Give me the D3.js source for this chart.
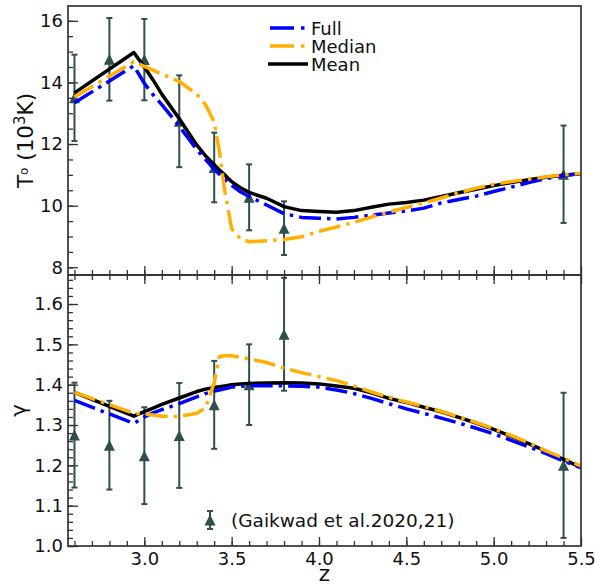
<!DOCTYPE html>
<html><head><meta charset="utf-8">
<script src="https://cdn.jsdelivr.net/npm/d3@7"></script>
<style>body{margin:0;background:#fff} text{font-family:"DejaVu Sans",sans-serif;fill:#111}</style>
</head><body><svg id="c" width="595" height="585"></svg>
<script>
// ---- data ----
const zLine = [2.6, 2.94, 3.0, 3.05, 3.1, 3.2, 3.3, 3.35, 3.4, 3.43, 3.46, 3.5, 3.55, 3.6, 3.7, 3.8, 3.9, 4.0, 4.1, 4.2, 4.3, 4.4, 4.5, 4.6, 4.7, 4.8, 4.9, 5.0, 5.1, 5.2, 5.3, 5.4, 5.5];
const t0Full   = [13.34, 14.54, 13.97, 13.6, 13.28, 12.58, 11.82, 11.5, 11.18, 11.02, 10.86, 10.66, 10.45, 10.30, 10.02, 9.74, 9.62, 9.59, 9.57, 9.62, 9.69, 9.76, 9.83, 9.92, 10.09, 10.20, 10.31, 10.46, 10.60, 10.75, 10.88, 10.98, 11.04];
const t0Median = [13.53, 14.67, 14.52, 14.40, 14.27, 14.03, 13.62, 13.28, 12.72, 11.75, 10.50, 9.25, 8.92, 8.83, 8.86, 8.90, 8.99, 9.17, 9.31, 9.46, 9.63, 9.79, 9.94, 10.09, 10.25, 10.42, 10.57, 10.69, 10.78, 10.86, 10.94, 11.0, 11.05];
const t0Mean   = [13.66, 14.97, 14.5, 14.08, 13.62, 12.82, 11.97, 11.62, 11.33, 11.16, 11.0, 10.78, 10.58, 10.43, 10.24, 9.97, 9.84, 9.81, 9.79, 9.84, 9.95, 10.05, 10.10, 10.18, 10.30, 10.42, 10.53, 10.65, 10.75, 10.84, 10.92, 10.99, 11.04];
const gFull    = [1.361, 1.304, 1.320, 1.330, 1.338, 1.353, 1.370, 1.378, 1.384, 1.387, 1.390, 1.394, 1.396, 1.397, 1.398, 1.397, 1.396, 1.394, 1.387, 1.378, 1.366, 1.353, 1.340, 1.329, 1.317, 1.305, 1.292, 1.278, 1.262, 1.246, 1.229, 1.211, 1.194];
const gMedian  = [1.381, 1.329, 1.327, 1.325, 1.322, 1.321, 1.329, 1.342, 1.405, 1.470, 1.472, 1.472, 1.468, 1.464, 1.455, 1.441, 1.430, 1.420, 1.410, 1.397, 1.382, 1.369, 1.357, 1.346, 1.334, 1.320, 1.306, 1.291, 1.274, 1.256, 1.236, 1.218, 1.198];
const gMean    = [1.381, 1.322, 1.333, 1.342, 1.351, 1.367, 1.383, 1.389, 1.393, 1.395, 1.397, 1.400, 1.402, 1.403, 1.404, 1.405, 1.404, 1.402, 1.397, 1.391, 1.380, 1.366, 1.356, 1.344, 1.333, 1.319, 1.305, 1.289, 1.272, 1.254, 1.235, 1.215, 1.195];
const zObs   = [2.6, 2.8, 3.0, 3.2, 3.4, 3.6, 3.8, 5.4];
const t0Obs  = [13.5, 14.75, 14.74, 12.74, 11.24, 10.27, 9.27, 11.02];
const t0Err  = [1.4, 1.34, 1.32, 1.49, 1.13, 1.07, 0.87, 1.58];
const gObs   = [1.275, 1.25, 1.224, 1.274, 1.35, 1.40, 1.525, 1.20];
const gErr   = [0.13, 0.11, 0.12, 0.13, 0.109, 0.10, 0.14, 0.18];
const xTicks = [3.0, 3.5, 4.0, 4.5, 5.0, 5.5];
const t0Ticks = [8, 10, 12, 14, 16];
const gTicks = [1.0, 1.1, 1.2, 1.3, 1.4, 1.5, 1.6];
const seriesNames = ["Full", "Median", "Mean"];
const obsLabel = "(Gaikwad et al.2020,21)";

// ---- layout ----
const L = 68, R = 581, T1 = 6, B1 = 275, T2 = 275, B2 = 546;
const svg = d3.select("#c");
const x = d3.scaleLinear().domain([2.563, 5.5]).range([L, R]);
const yT = d3.scaleLinear().domain([7.75, 16.48]).range([B1, T1]);
const yG = d3.scaleLinear().domain([1.0, 1.672]).range([B2, T2]);

const colors = {Full: "#0000FF", Median: "#FFB000", Mean: "#000000"};
const dashes = {Full: "22 6 3.5 6", Median: "22 6 3.5 6", Mean: null};
const errCol = "#2F4F4F";
const fs = 18;

const defs = svg.append("defs");
defs.append("clipPath").attr("id", "c1").append("rect").attr("x", L).attr("y", T1).attr("width", R - L).attr("height", B1 - T1);
defs.append("clipPath").attr("id", "c2").append("rect").attr("x", L).attr("y", T2).attr("width", R - L).attr("height", B2 - T2);

function minorRange(a, b, s) { const out = []; for (let v = a; v <= b + 1e-9; v += s) out.push(+v.toFixed(4)); return out; }

function drawAxes(y, top, bottom, yMaj, yMin, fmt, showX, topTicks) {
  const gl = svg.append("g").attr("transform", `translate(${L},0)`);
  gl.call(d3.axisLeft(y).tickValues(yMin).tickSizeInner(-5).tickSizeOuter(0).tickFormat(""));
  gl.select(".domain").remove();
  const gl2 = svg.append("g").attr("transform", `translate(${L},0)`);
  gl2.call(d3.axisLeft(y).tickValues(yMaj).tickSizeInner(-10).tickSizeOuter(0).tickPadding(5).tickFormat(fmt));
  gl2.select(".domain").remove();
  gl2.selectAll("text").style("font-size", fs + "px").style("font-family", "DejaVu Sans").attr("fill", "#111");
  [gl, gl2].forEach(g => g.selectAll("line").attr("stroke", "#333").attr("stroke-width", 1.3));
  const xMin = minorRange(2.6, 5.4, 0.1);
  const gb = svg.append("g").attr("transform", `translate(0,${bottom})`);
  gb.call(d3.axisBottom(x).tickValues(xMin).tickSizeInner(-5).tickSizeOuter(0).tickFormat(""));
  gb.select(".domain").remove();
  const gb2 = svg.append("g").attr("transform", `translate(0,${bottom})`);
  gb2.call(d3.axisBottom(x).tickValues(xTicks).tickSizeInner(-9).tickSizeOuter(0).tickPadding(6).tickFormat(showX ? d3.format(".1f") : ""));
  gb2.select(".domain").remove();
  gb2.selectAll("text").style("font-size", fs + "px").style("font-family", "DejaVu Sans").attr("fill", "#111");
  [gb, gb2].forEach(g => g.selectAll("line").attr("stroke", "#333").attr("stroke-width", 1.3));
  if (topTicks) {
    const gt = svg.append("g").attr("transform", `translate(0,${top})`);
    gt.call(d3.axisTop(x).tickValues(xMin).tickSizeInner(-5).tickSizeOuter(0).tickFormat(""));
    gt.select(".domain").remove();
    const gt2 = svg.append("g").attr("transform", `translate(0,${top})`);
    gt2.call(d3.axisTop(x).tickValues(xTicks).tickSizeInner(-9).tickSizeOuter(0).tickFormat(""));
    gt2.select(".domain").remove();
    [gt, gt2].forEach(g => g.selectAll("line").attr("stroke", "#333").attr("stroke-width", 1.3));
  }
}

function drawLines(y, data, clip) {
  const g = svg.append("g").attr("clip-path", `url(#${clip})`);
  const line = d3.line().x(d => x(d[0])).y(d => y(d[1]));
  ["Mean", "Full", "Median"].forEach(name => {
    const vals = data[name];
    const p = g.append("path").datum(zLine.map((z, i) => [z, vals[i]]))
      .attr("d", line).attr("fill", "none").attr("stroke", colors[name])
      .attr("stroke-width", 3.5).attr("stroke-linejoin", "round");
    if (dashes[name]) p.attr("stroke-dasharray", dashes[name]);
  });
}

function tri(cx, cy, s) { const h = s / 2; return `M${cx},${cy - h}L${cx + h},${cy + h}L${cx - h},${cy + h}Z`; }

function drawObs(y, vals, errs, clip) {
  const g = svg.append("g").attr("clip-path", `url(#${clip})`);
  zObs.forEach((z, i) => {
    const cx = x(z), y0 = y(vals[i] - errs[i]), y1 = y(vals[i] + errs[i]);
    g.append("line").attr("x1", cx).attr("x2", cx).attr("y1", y0).attr("y2", y1).attr("stroke", errCol).attr("stroke-width", 2);
    [y0, y1].forEach(yy => g.append("line").attr("x1", cx - 3).attr("x2", cx + 3).attr("y1", yy).attr("y2", yy).attr("stroke", errCol).attr("stroke-width", 2));
    g.append("path").attr("d", tri(cx, y(vals[i]), 11)).attr("fill", errCol);
  });
}

drawObs(yT, t0Obs, t0Err, "c1");
drawLines(yT, {Full: t0Full, Median: t0Median, Mean: t0Mean}, "c1");
drawObs(yG, gObs, gErr, "c2");
drawLines(yG, {Full: gFull, Median: gMedian, Mean: gMean}, "c2");

drawAxes(yT, T1, B1, t0Ticks, minorRange(8, 16, 0.5), d3.format("d"), false, false);
drawAxes(yG, T2, B2, gTicks, minorRange(1.0, 1.66, 0.02), d3.format(".1f"), true, true);

[[T1, B1], [T2, B2]].forEach(([t, b]) => svg.append("rect").attr("x", L).attr("y", t).attr("width", R - L).attr("height", b - t)
  .attr("fill", "none").attr("stroke", "#333").attr("stroke-width", 1.7));

// legend top
const legRows = [28, 46, 64];
seriesNames.forEach((name, i) => {
  const yy = legRows[i];
  const l = svg.append("line").attr("x1", name === "Mean" ? 268 : 270).attr("x2", name === "Mean" ? 308 : 305.5)
    .attr("y1", yy).attr("y2", yy).attr("stroke", colors[name]).attr("stroke-width", 3.5);
  if (dashes[name]) l.attr("stroke-dasharray", "24 7 3.5 7");
  svg.append("text").attr("x", 311).attr("y", yy + 7).style("font-size", "18px").text(name);
});

// legend bottom
{
  const cx = 210, cy = 520;
  svg.append("line").attr("x1", cx).attr("x2", cx).attr("y1", 511).attr("y2", 529).attr("stroke", errCol).attr("stroke-width", 2);
  [511, 529].forEach(yy => svg.append("line").attr("x1", cx - 3).attr("x2", cx + 3).attr("y1", yy).attr("y2", yy).attr("stroke", errCol).attr("stroke-width", 2));
  svg.append("path").attr("d", tri(cx, cy, 11)).attr("fill", errCol);
  svg.append("text").attr("x", 231).attr("y", 527).style("font-size", "18.5px").text(obsLabel);
}

// axis labels
const yl = svg.append("text").attr("transform", "translate(33,140.5) rotate(-90)").attr("text-anchor", "middle").style("font-size", "21.5px");
yl.append("tspan").text("T");
yl.append("tspan").attr("dy", -5).style("font-size", "12px").text("o");
yl.append("tspan").attr("dy", 5).text(" (10");
yl.append("tspan").attr("dy", -8).style("font-size", "15px").text("3");
yl.append("tspan").attr("dy", 8).text("K)");

svg.append("text").attr("transform", "translate(26,410.5) rotate(-90)").attr("text-anchor", "middle").style("font-size", "21.5px").text("γ");
svg.append("text").attr("x", (L + R) / 2).attr("y", 581).attr("text-anchor", "middle").style("font-size", "21.5px").text("z");
</script></body></html>
